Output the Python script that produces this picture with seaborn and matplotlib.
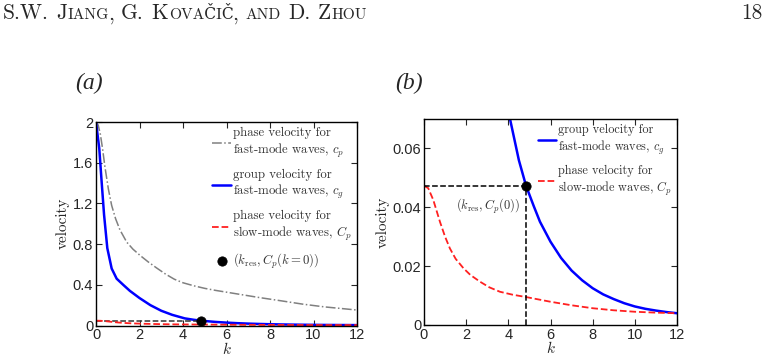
import numpy as np
import pandas as pd
import seaborn as sns
import matplotlib.pyplot as plt

# phase velocity, fast-mode waves (grey dash-dot, panel a)
k_cp = [0, 0.1, 0.2, 0.3, 0.41, 0.57, 0.72, 0.9, 1.1, 1.41, 1.7, 2.02, 2.4, 2.79, 3.2,
        3.6, 4.0, 4.5, 5.0, 5.5, 6.5, 7.5, 8.5, 9.5, 10.5, 12]
v_cp = [2.0, 1.97, 1.88, 1.74, 1.56, 1.34, 1.18, 1.05, 0.94, 0.82, 0.75, 0.69, 0.625, 0.565, 0.505,
        0.455, 0.42, 0.39, 0.365, 0.345, 0.31, 0.275, 0.243, 0.21, 0.183, 0.152]

# group velocity, fast-mode waves (blue)
k_cg = [0, 0.15, 0.26, 0.37, 0.52, 0.72, 0.95, 1.25, 1.56, 2.0, 2.5, 3.0, 3.5, 4.08,
        4.5, 4.84, 5.2, 5.5, 6.0, 6.5, 7.0, 7.5, 8.0, 8.5, 9.0, 9.5, 10.0, 10.5, 11.0, 11.5, 12]
v_cg = [2.0, 1.74, 1.41, 1.09, 0.76, 0.56, 0.46, 0.40, 0.34, 0.27, 0.20, 0.145, 0.105, 0.07,
        0.056, 0.0473, 0.0405, 0.0351, 0.0283, 0.0228, 0.0185, 0.0152, 0.0125, 0.0104, 0.0088,
        0.0074, 0.0063, 0.0055, 0.0049, 0.0044, 0.0040]

# phase velocity, slow-mode waves (red dashed)
k_Cp = [0, 0.2, 0.44, 0.76, 1.0, 1.23, 1.5, 1.87, 2.2, 2.66, 3.1, 3.6, 4.2, 4.84, 6, 7, 8, 9, 10, 11, 12]
v_Cp = [0.0473, 0.0465, 0.0425, 0.035, 0.030, 0.026, 0.0225, 0.0193, 0.0170, 0.0147, 0.0128,
        0.0113, 0.0103, 0.0095, 0.0079, 0.0067, 0.0057, 0.0050, 0.0045, 0.0042, 0.0040]

# resonance point
k_res = 4.84
c_res = 0.0473

xticks = [0, 2, 4, 6, 8, 10, 12]
yticks_a = [0, 0.4, 0.8, 1.2, 1.6, 2]
ylabels_a = ['0', '0.4', '0.8', '1.2', '1.6', '2']
yticks_b = [0, 0.02, 0.04, 0.06]
ylabels_b = ['0', '0.02', '0.04', '0.06']

lab_cp = 'phase velocity for\nfast-mode waves, $c_p$'
lab_cg = 'group velocity for\nfast-mode waves, $c_g$'
lab_Cp = 'phase velocity for\nslow-mode waves, $C_p$'
lab_pt = r'$(k_{\rm res}, C_p(k=0))$'

df_cp = pd.DataFrame({'k': k_cp, 'v': v_cp})
df_cg = pd.DataFrame({'k': k_cg, 'v': v_cg})
df_Cp = pd.DataFrame({'k': k_Cp, 'v': v_Cp})
df_pt = pd.DataFrame({'k': [k_res], 'v': [c_res]})

sns.set_theme(style='ticks')
plt.rcParams['font.family'] = 'cmr10'
plt.rcParams['mathtext.fontset'] = 'cm'
plt.rcParams['axes.formatter.use_mathtext'] = True
plt.rcParams['axes.linewidth'] = 1.0

fig = plt.figure(figsize=(7.67, 3.6), dpi=100)
ax1 = fig.add_axes([96 / 767, 1 - 325.5 / 360, 261 / 767, 203.5 / 360])
ax2 = fig.add_axes([424 / 767, 1 - 325 / 360, 253 / 767, 206 / 360])

BLUE = '#0000ff'
RED = '#ff2020'
GREY = '#808080'

# ---- panel (a)
sns.lineplot(data=df_cp, x='k', y='v', ax=ax1, color=GREY, lw=1.1, ls='-.', label=lab_cp)
sns.lineplot(data=df_cg, x='k', y='v', ax=ax1, color=BLUE, lw=1.8, label=lab_cg)
ax1.plot([0, k_res], [c_res, c_res], color='#333333', ls='--', lw=1.1, label='_nolegend_')
ax1.plot([k_res, k_res], [0, c_res], color='#333333', ls='--', lw=1.1, label='_nolegend_')
sns.lineplot(data=df_Cp, x='k', y='v', ax=ax1, color=RED, lw=1.3, ls='--', label=lab_Cp)
sns.scatterplot(data=df_pt, x='k', y='v', ax=ax1, color='black', s=45, edgecolor='black',
                zorder=5, label=lab_pt)
ax1.set_xlim(0, 12)
ax1.set_ylim(0, 2)
ax1.set_yticks(yticks_a)
ax1.set_yticklabels(ylabels_a)

# ---- panel (b)
sns.lineplot(data=df_cg, x='k', y='v', ax=ax2, color=BLUE, lw=1.8, label=lab_cg)
sns.lineplot(data=df_Cp, x='k', y='v', ax=ax2, color=RED, lw=1.3, ls='--', label=lab_Cp)
ax2.plot([0, k_res], [c_res, c_res], color='black', ls='--', lw=1.1, label='_nolegend_')
ax2.plot([k_res, k_res], [0, c_res], color='black', ls='--', lw=1.1, label='_nolegend_')
sns.scatterplot(data=df_pt, x='k', y='v', ax=ax2, color='black', s=45, edgecolor='black',
                zorder=5, legend=False)
ax2.text(4.55, 0.0402, r'$(k_{\rm res}, C_p(0))$', ha='right', va='center',
         fontsize=9, color='#333333')
ax2.set_xlim(0, 12)
ax2.set_ylim(0, 0.07)
ax2.set_yticks(yticks_b)
ax2.set_yticklabels(ylabels_b)

for ax, lfs in ((ax1, 9.2), (ax2, 8.8)):
    ax.set_xticks(xticks)
    ax.set_xticklabels([str(t) for t in xticks])
    ax.tick_params(direction='in', top=True, right=True, length=4, width=0.8, pad=2,
                   labelsize=10.5)
    for lab in ax.get_xticklabels() + ax.get_yticklabels():
        lab.set_family('Liberation Sans')
    ax.set_xlabel('$k$', fontsize=11, labelpad=-1)
    ax.set_ylabel('velocity', fontsize=11, labelpad=2)
    for sp in ax.spines.values():
        sp.set_color('black')
    ax.legend(loc='upper right', frameon=False, fontsize=lfs, handlelength=1.5,
              handletextpad=0.15, labelspacing=0.7, borderaxespad=0.1,
              borderpad=0.3, labelcolor='#333333')

fig.text(75 / 767, 1 - 89 / 360, '(a)', fontsize=17, family='Liberation Serif',
         style='italic', va='baseline')
fig.text(395 / 767, 1 - 89 / 360, '(b)', fontsize=17, family='Liberation Serif',
         style='italic', va='baseline')

# running header in small caps
r = fig.canvas.get_renderer()
big, small = 15.5, 11.2
pieces = [('S.W.', big), (None, 0), ('J', big), ('IANG', small), (',', big), (None, 0),
          ('G.', big), (None, 0), ('K', big), ('OVAČIČ', small),
          (',', big), (None, 0), ('AND', small), (None, 0), ('D.', big), (None, 0),
          ('Z', big), ('HOU', small)]
x = 3
ybase = 1 - 19.3 / 360
for s, size in pieces:
    if s is None:
        x += 7
        continue
    if s == ',':
        x -= 2
    t = fig.text(x / 767, ybase, s, fontsize=size, family=['cmr10', 'DejaVu Serif'],
                 va='baseline')
    x = t.get_window_extent(r).x1 + 0.5
fig.text(741 / 767, ybase, '18', fontsize=big, family='cmr10', va='baseline')

fig.savefig('out.png', dpi=100)
